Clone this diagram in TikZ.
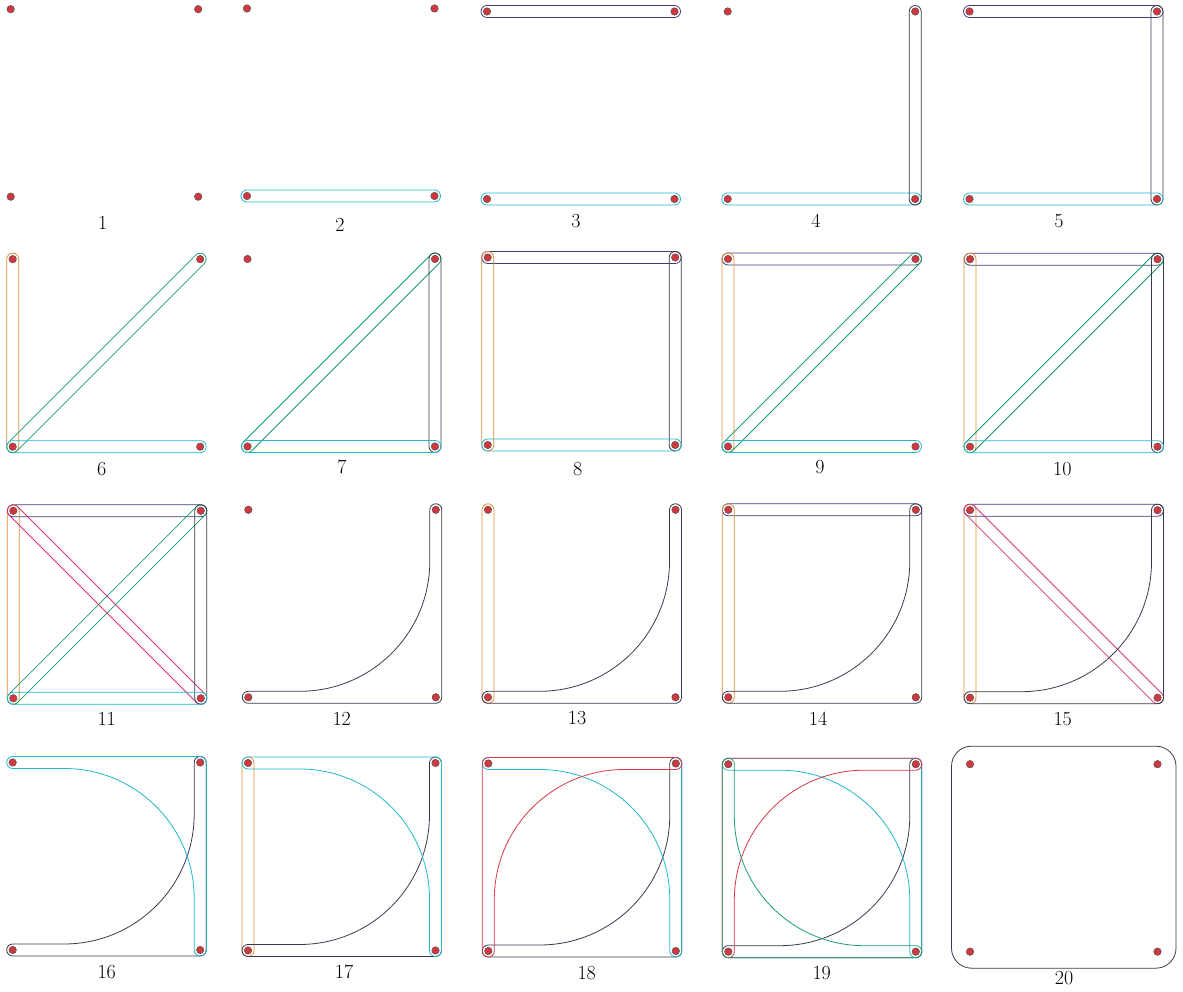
\documentclass[tikz,border=0pt]{standalone}
\usetikzlibrary{calc}
\pgfdeclarelayer{bg}
\pgfsetlayers{bg,main}
\definecolor{cyanE}{RGB}{30,183,207}
\definecolor{navyE}{RGB}{62,60,128}
\definecolor{darkE}{RGB}{58,58,78}
\definecolor{orangeE}{RGB}{226,138,52}
\definecolor{greenE}{RGB}{26,158,108}
\definecolor{magE}{RGB}{214,50,126}
\definecolor{redE}{RGB}{212,56,72}
\definecolor{dotred}{RGB}{208,56,62}
\definecolor{dotedge}{RGB}{90,80,85}
\def\sauW{6pt}
\def\sauR{130pt}
\def\side{187.5}
\tikzset{
  vtx/.style={circle, inner sep=0pt, minimum size=7.5pt, fill=dotred, draw=dotedge, line width=0.5pt},
  hl/.style={line width=0.8pt},
  cyanH/.style={hl, draw=cyanE},
  navyH/.style={hl, draw=navyE},
  darkH/.style={hl, draw=darkE},
  orangeH/.style={hl, draw=orangeE},
  greenH/.style={hl, draw=greenE},
  magH/.style={hl, draw=magE},
  redH/.style={hl, draw=redE},
  lbl/.style={font=\fontsize{20}{24}\selectfont, inner sep=0pt, text=black}
}
% four vertices of one panel
\newcommand\panelpts[3]{%
  \node[vtx] (#1-bl) at (#2,#3) {};
  \node[vtx] (#1-br) at (#2+\side,#3) {};
  \node[vtx] (#1-tl) at (#2,#3+\side) {};
  \node[vtx] (#1-tr) at (#2+\side,#3+\side) {};}
% hyperedge around two vertices
\newcommand\sausage[3]{%
  \draw[#3] let \p1=(#1.center), \p2=(#2.center), \n1={atan2(\y2-\y1,\x2-\x1)} in
    ($(\p1)+(\n1+90:\sauW)$) -- ($(\p2)+(\n1+90:\sauW)$)
    arc[start angle=\n1+90, end angle=\n1-90, radius=\sauW]
    -- ($(\p1)+(\n1-90:\sauW)$)
    arc[start angle=\n1-90, end angle=\n1-270, radius=\sauW] -- cycle;}
% L hyperedge BL - BR(corner) - TR
\newcommand\Lbr[2]{%
  \draw[#2] ([yshift=-\sauW]#1-bl.center) -- ([yshift=-\sauW]#1-br.center)
    arc[start angle=-90,end angle=0,radius=\sauW] -- ([xshift=\sauW]#1-tr.center)
    arc[start angle=0,end angle=180,radius=\sauW]
    -- ([xshift=-\sauW,yshift=\sauW+\sauR]#1-br.center)
    arc[start angle=0,end angle=-90,radius=\sauR] -- ([yshift=\sauW]#1-bl.center)
    arc[start angle=90,end angle=270,radius=\sauW] -- cycle;}
% L hyperedge TL - TR(corner) - BR
\newcommand\Ltr[2]{%
  \draw[#2] ([yshift=\sauW]#1-tl.center) -- ([yshift=\sauW]#1-tr.center)
    arc[start angle=90,end angle=0,radius=\sauW] -- ([xshift=\sauW]#1-br.center)
    arc[start angle=0,end angle=-180,radius=\sauW]
    -- ([xshift=-\sauW,yshift=-\sauW-\sauR]#1-tr.center)
    arc[start angle=0,end angle=90,radius=\sauR] -- ([yshift=-\sauW]#1-tl.center)
    arc[start angle=-90,end angle=-270,radius=\sauW] -- cycle;}
% L hyperedge TR - TL(corner) - BL
\newcommand\Ltl[2]{%
  \draw[#2] ([yshift=\sauW]#1-tr.center) -- ([yshift=\sauW]#1-tl.center)
    arc[start angle=90,end angle=180,radius=\sauW] -- ([xshift=-\sauW]#1-bl.center)
    arc[start angle=180,end angle=360,radius=\sauW]
    -- ([xshift=\sauW,yshift=-\sauW-\sauR]#1-tl.center)
    arc[start angle=180,end angle=90,radius=\sauR] -- ([yshift=-\sauW]#1-tr.center)
    arc[start angle=-90,end angle=90,radius=\sauW] -- cycle;}
% L hyperedge TL - BL(corner) - BR
\newcommand\Lbl[2]{%
  \draw[#2] ([xshift=-\sauW]#1-tl.center) -- ([xshift=-\sauW]#1-bl.center)
    arc[start angle=180,end angle=270,radius=\sauW] -- ([yshift=-\sauW]#1-br.center)
    arc[start angle=-90,end angle=90,radius=\sauW]
    -- ([xshift=\sauW+\sauR,yshift=\sauW]#1-bl.center)
    arc[start angle=270,end angle=180,radius=\sauR] -- ([xshift=\sauW]#1-tl.center)
    arc[start angle=0,end angle=180,radius=\sauW] -- cycle;}
\begin{document}
\begin{tikzpicture}[x=1pt,y=1pt]
\useasboundingbox (0,0) rectangle (1183,992);
% vertices
\panelpts{1}{10.7}{795.3}
\panelpts{2}{247}{796}
\panelpts{3}{487}{793}
\panelpts{4}{727.7}{793}
\panelpts{5}{969.5}{793}
\panelpts{6}{12.7}{545.3}
\panelpts{7}{247.5}{545.5}
\panelpts{8}{487.7}{547}
\panelpts{9}{728}{545.5}
\panelpts{10}{970}{545.3}
\panelpts{11}{13.3}{293.7}
\panelpts{12}{248.3}{294.7}
\panelpts{13}{488}{294.7}
\panelpts{14}{728.3}{294.7}
\panelpts{15}{970}{294.3}
\panelpts{16}{12.7}{42}
\panelpts{17}{248}{41.5}
\panelpts{18}{488.3}{41}
\panelpts{19}{728.3}{40.3}
\panelpts{20}{970}{40.3}
% labels
\node[lbl] (l1) at (102.7,769.3) {1};
\node[lbl] (l2) at (340,767) {2};
\node[lbl] (l3) at (576,771) {3};
\node[lbl] (l4) at (816,771.3) {4};
\node[lbl] (l5) at (1059,771) {5};
\node[lbl] (l6) at (101.7,523.3) {6};
\node[lbl] (l7) at (342,525) {7};
\node[lbl] (l8) at (577.7,522.7) {8};
\node[lbl] (l9) at (820,525) {9};
\node[lbl] (l10) at (1062.3,522.7) {10};
\node[lbl] (l11) at (106.7,273) {11};
\node[lbl] (l12) at (341.7,273) {12};
\node[lbl] (l13) at (577,273.5) {13};
\node[lbl] (l14) at (818,273.5) {14};
\node[lbl] (l15) at (1062.7,272.7) {15};
\node[lbl] (l16) at (106.7,20.3) {16};
\node[lbl] (l17) at (344,20.5) {17};
\node[lbl] (l18) at (586.7,19.3) {18};
\node[lbl] (l19) at (821.7,19.3) {19};
\node[lbl] (l20) at (1064,14) {20};
\begin{pgfonlayer}{bg}
% 2
\sausage{2-bl}{2-br}{cyanH}
% 3
\sausage{3-tl}{3-tr}{navyH}
\sausage{3-bl}{3-br}{cyanH}
% 4
\sausage{4-bl}{4-br}{cyanH}
\sausage{4-tr}{4-br}{darkH}
% 5
\sausage{5-tl}{5-tr}{navyH}
\sausage{5-tr}{5-br}{darkH}
\sausage{5-bl}{5-br}{cyanH}
% 6
\sausage{6-tl}{6-bl}{orangeH}
\sausage{6-bl}{6-tr}{greenH}
\sausage{6-bl}{6-br}{cyanH}
% 7
\sausage{7-bl}{7-tr}{greenH}
\sausage{7-tr}{7-br}{darkH}
\sausage{7-bl}{7-br}{cyanH}
% 8
\sausage{8-tl}{8-tr}{navyH}
\sausage{8-tl}{8-bl}{orangeH}
\sausage{8-tr}{8-br}{darkH}
\sausage{8-bl}{8-br}{cyanH}
% 9
\sausage{9-tl}{9-tr}{navyH}
\sausage{9-tl}{9-bl}{orangeH}
\sausage{9-bl}{9-tr}{greenH}
\sausage{9-bl}{9-br}{cyanH}
% 10
\sausage{10-tl}{10-tr}{navyH}
\sausage{10-tl}{10-bl}{orangeH}
\sausage{10-bl}{10-tr}{greenH}
\sausage{10-tr}{10-br}{darkH}
\sausage{10-bl}{10-br}{cyanH}
% 11
\sausage{11-tl}{11-tr}{navyH}
\sausage{11-tl}{11-bl}{orangeH}
\sausage{11-bl}{11-tr}{greenH}
\sausage{11-tl}{11-br}{magH}
\sausage{11-tr}{11-br}{darkH}
\sausage{11-bl}{11-br}{cyanH}
% 12
\Lbr{12}{darkH}
% 13
\sausage{13-tl}{13-bl}{orangeH}
\Lbr{13}{darkH}
% 14
\sausage{14-tl}{14-tr}{navyH}
\sausage{14-tl}{14-bl}{orangeH}
\Lbr{14}{darkH}
% 15
\sausage{15-tl}{15-tr}{navyH}
\sausage{15-tl}{15-bl}{orangeH}
\sausage{15-tl}{15-br}{magH}
\Lbr{15}{darkH}
% 16
\Lbr{16}{darkH}
\Ltr{16}{cyanH}
% 17
\sausage{17-tl}{17-bl}{orangeH}
\Lbr{17}{darkH}
\Ltr{17}{cyanH}
% 18
\Lbr{18}{darkH}
\Ltr{18}{cyanH}
\Ltl{18}{redH}
% 19
\Lbr{19}{darkH}
\Ltr{19}{cyanH}
\Ltl{19}{redH}
\Lbl{19}{greenH}
% 20
\draw[darkH, rounded corners=20pt] ([shift={(-18.5pt,-16.5pt)}]20-bl.center) rectangle ([shift={(18.5pt,18pt)}]20-tr.center);
\end{pgfonlayer}
\end{tikzpicture}
\end{document}
